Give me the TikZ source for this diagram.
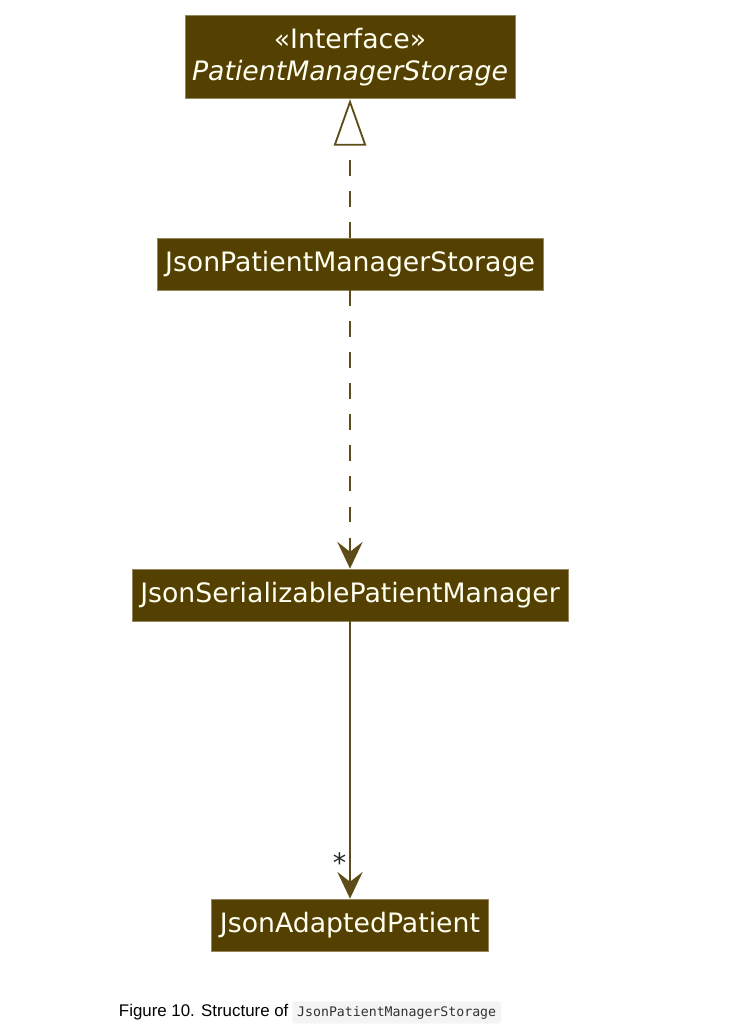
\documentclass[tikz,border=0pt]{standalone}
\usepackage{fontspec}
\setmainfont{DejaVu Sans}
\newfontfamily\capfont{Liberation Sans}
\newfontfamily\codefont{DejaVu Sans Mono}
\usetikzlibrary{arrows.meta}
\definecolor{umlfill}{RGB}{84,64,0}
\definecolor{umledge}{RGB}{150,135,95}
\definecolor{umlline}{RGB}{93,76,24}
\definecolor{umltext}{RGB}{255,255,242}
\definecolor{codebg}{RGB}{244,244,244}
\definecolor{codetext}{RGB}{51,51,51}

\begin{document}
\begin{tikzpicture}[x=0.025cm, y=-0.025cm,
    umlclass/.style={fill=umlfill, draw=umledge, line width=0.5pt, text=umltext,
      font=\fontsize{19}{22.7}\selectfont, inner xsep=5.8pt, minimum height=37pt},
    realize/.style={umlline, line width=1.3pt, dash pattern=on 11pt off 11pt,
      -{Triangle[length=33pt, width=23pt, fill=white, line width=1.3pt]}},
    depend/.style={umlline, line width=1.3pt, dash pattern=on 11pt off 11pt,
      -{Stealth[length=19pt, width=18pt, inset=7pt]}},
    assoc/.style={umlline, line width=1.3pt, -{Stealth[length=19pt, width=18pt, inset=7pt]}}]
          \useasboundingbox (0,0) rectangle (731,1035);
          \node[umlclass, align=center, minimum height=59.5pt, inner xsep=5pt] (iface) at (350,57)
            {«Interface»\\\textit{PatientManagerStorage}};
          \node[umlclass] (jsonstorage) at (350,264) {JsonPatientManagerStorage};
          \node[umlclass] (serializable) at (350,595) {JsonSerializablePatientManager};
          \node[umlclass] (adapted) at (350,925) {JsonAdaptedPatient};
          \draw[realize] (jsonstorage) -- (iface);
          \draw[depend] (jsonstorage) -- (serializable);
          \draw[assoc] (serializable) -- (adapted)
            node[pos=0.87, left=1pt, text=black!85, font=\fontsize{19}{19}\selectfont, inner sep=1pt] (mult) {*};
          \node[anchor=base west, font=\capfont\fontsize{12}{14}\selectfont] (caption) at (114,1016)
            {Figure 10. Structure of};
          \node[anchor=base west, fill=codebg, rounded corners=2pt, text=codetext, inner xsep=3.5pt,
            font=\codefont\fontsize{9.4}{11}\selectfont] (code) at (292,1016) {JsonPatientManagerStorage};
        \end{tikzpicture}
\end{document}
